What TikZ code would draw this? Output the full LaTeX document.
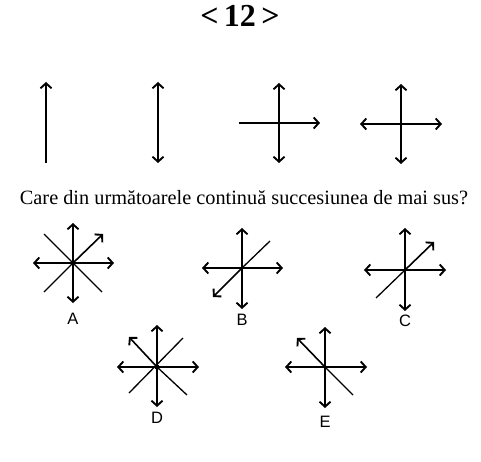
\documentclass[tikz,border=0pt]{standalone}
\usepackage{fontspec}
\setmainfont{Liberation Serif}
\setsansfont{Liberation Sans}
\usepackage{tikz}
\usetikzlibrary{arrows.meta}
\tikzset{
  arm/.style={line width=1.6pt, color=black},
  tip/.style={arm, -{Straight Barb[length=5pt,width=11pt,line width=1.9pt]}},
  twotip/.style={arm, {Straight Barb[length=5pt,width=11pt,line width=1.9pt]}-{Straight Barb[length=5pt,width=11pt,line width=1.9pt]}},
  thin arm/.style={line width=1.3pt, color=black},
  letter/.style={font=\sffamily\fontsize{16.5}{18}\selectfont},
  hub/.style={circle, fill=black, inner sep=0pt, minimum size=5pt}
}

\begin{document}
\begin{tikzpicture}[x=1pt, y=-1pt]
  \useasboundingbox (0,0) rectangle (481,462);
  % Title
  \node (title) at (240,16) {\bfseries\fontsize{32}{34}\selectfont \textless\,12\,\textgreater};

  % Top row: the given sequence
  \draw[tip] (46,163) -- (46,82);
  \draw[twotip] (158,163) -- (158,82);
  \draw[twotip] (279,163) -- (279,83);
  \draw[tip] (239,123) -- (320,123);
  \draw[twotip] (401,164) -- (401,84);
  \draw[twotip] (360,124) -- (442,124);

  % Question
  \node (question) at (244,198) {\fontsize{20.3}{23}\selectfont Care din următoarele continuă succesiunea de mai sus?};

  % A
  \begin{scope}[shift={(73,263)}]
    \draw[twotip] (0,40) -- (0,-40);
    \draw[twotip] (-40,0) -- (41,0);
    \draw[thin arm] (-29,-29) -- (29,29);
    \draw[thin arm] (-29,29) -- (0,0);
    \draw[tip] (0,0) -- (30,-29);
    \node[hub] (hubA) at (0,0) {};
    \node[letter] (A) at (0,56) {A};
  \end{scope}

  % B
  \begin{scope}[shift={(242,268)}]
    \draw[twotip] (0,41) -- (0,-40);
    \draw[twotip] (-40,0) -- (41,0);
    \draw[thin arm] (0,0) -- (28,-27);
    \draw[tip] (0,0) -- (-29,29);
    \node[letter] (B) at (0,52) {B};
  \end{scope}

  % C
  \begin{scope}[shift={(405,270)}]
    \draw[twotip] (0,41) -- (0,-42);
    \draw[twotip] (-41,0) -- (41,0);
    \draw[thin arm] (0,0) -- (-29,28);
    \draw[tip] (0,0) -- (29,-28);
    \node[letter] (C) at (0,51) {C};
  \end{scope}

  % D
  \begin{scope}[shift={(157,367)}]
    \draw[twotip] (0,40) -- (0,-42);
    \draw[twotip] (-40,0) -- (42,0);
    \draw[thin arm] (-28,26) -- (26,-29);
    \draw[thin arm] (0,0) -- (30,28);
    \draw[tip] (0,0) -- (-28,-30);
    \node[hub] (hubD) at (0,0) {};
    \node[letter] (D) at (0,51) {D};
  \end{scope}

  % E
  \begin{scope}[shift={(325,367)}]
    \draw[twotip] (0,41) -- (0,-40);
    \draw[twotip] (-40,0) -- (42,0);
    \draw[thin arm] (0,0) -- (28,28);
    \draw[tip] (0,0) -- (-28,-29);
    \node[letter] (E) at (0,55) {E};
  \end{scope}
\end{tikzpicture}
\end{document}
